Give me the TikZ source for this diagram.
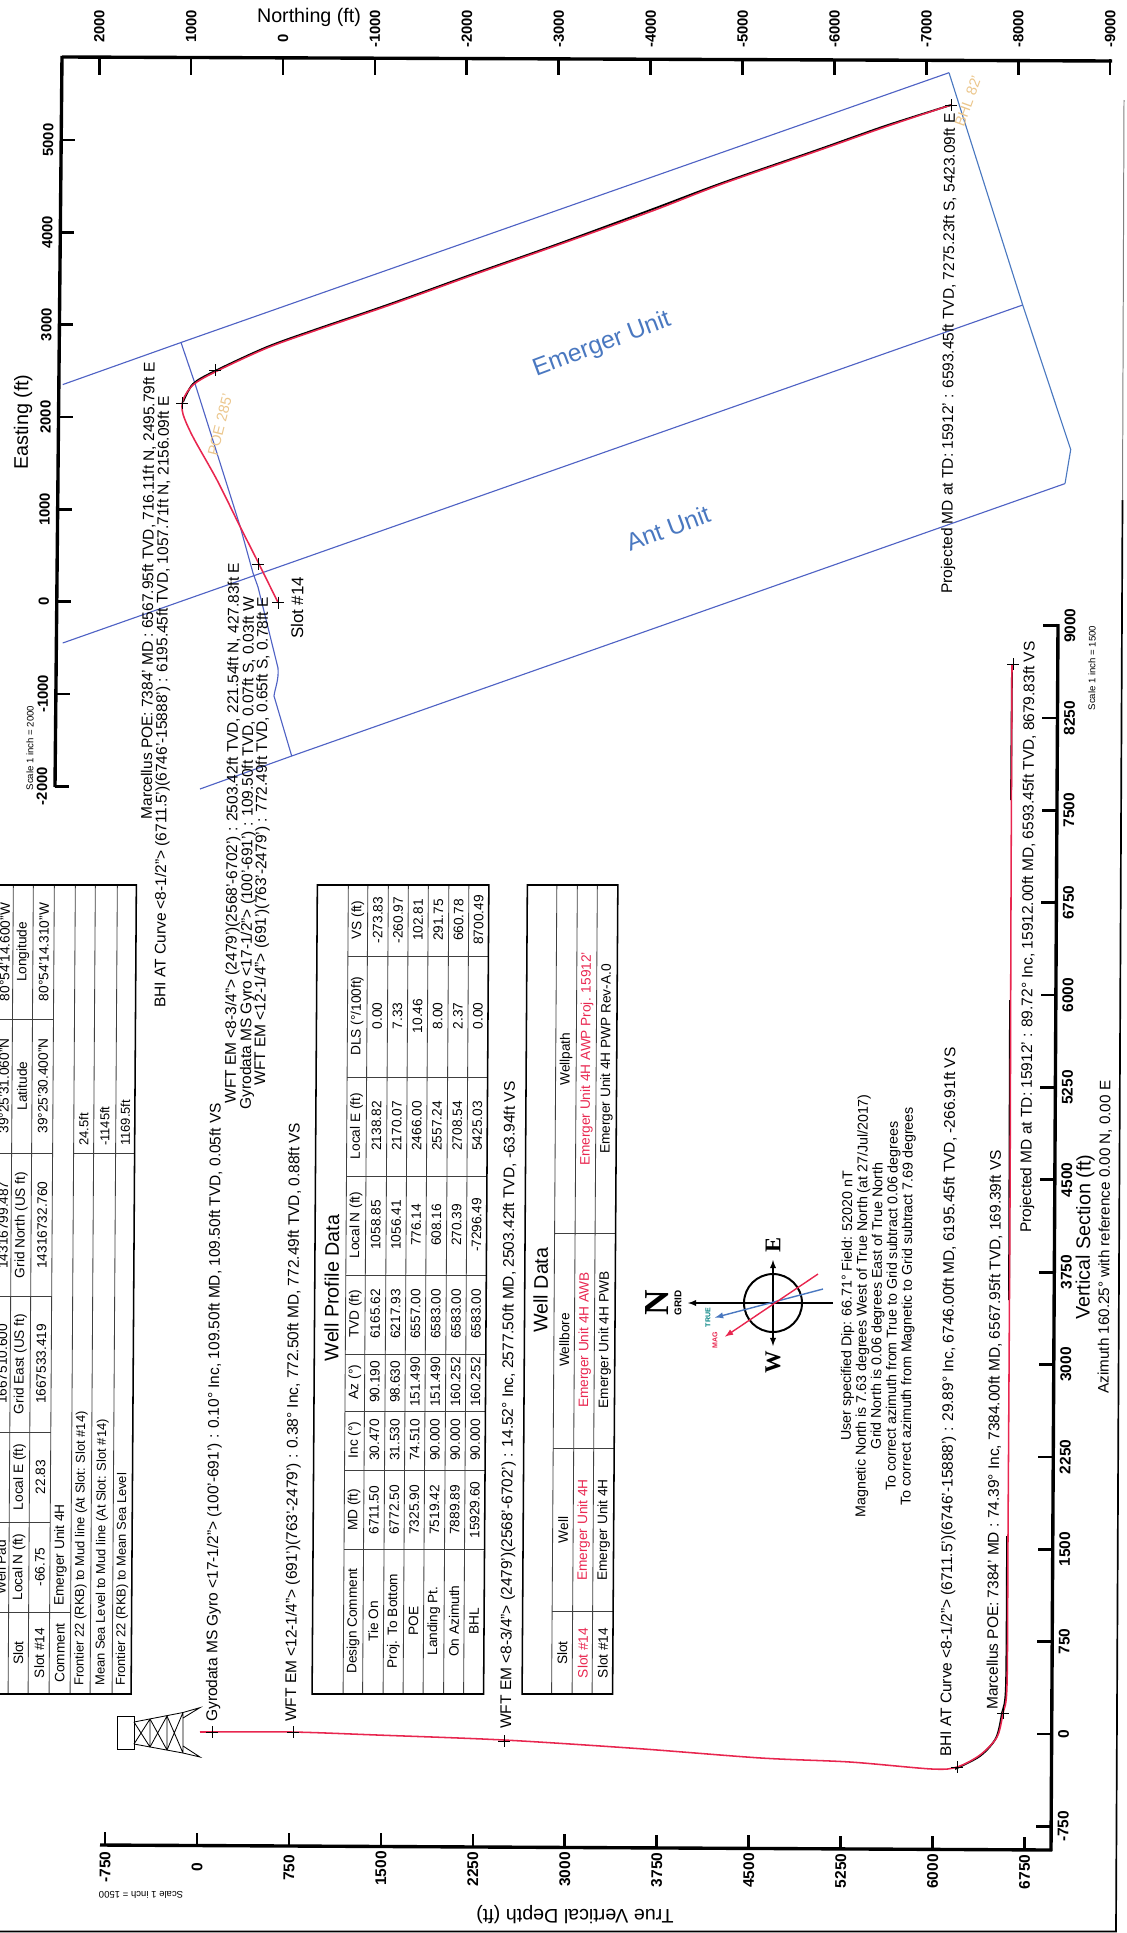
\documentclass[tikz,border=0pt]{standalone}
\usepackage{fontspec}
\setmainfont{Liberation Sans}
\newfontfamily\compassfont{Liberation Serif}
\definecolor{wellred}{HTML}{E8264F}
\definecolor{leaseblue}{HTML}{4F62C4}
\definecolor{unitblue}{HTML}{4A78C0}
\definecolor{limitgold}{HTML}{EBC68C}
\tikzset{
  axisline/.style={line width=2.4pt},
  tickline/.style={line width=1.9pt},
  thinline/.style={line width=0.6pt, black!75},
  boxline/.style={line width=1.1pt},
  leaseline/.style={line width=0.8pt, leaseblue},
  redpath/.style={line width=1.1pt, wellred},
  blackpath/.style={line width=1.3pt, black},
  marker/.style={line width=0.45pt, black},
  vtext/.style={rotate=89.65, inner sep=0pt, font=\fontsize{11}{12}\selectfont},
  celltext/.style={rotate=89.65, inner sep=0pt, font=\fontsize{9.7}{11}\selectfont},
  axislabel/.style={rotate=89.65, inner sep=0pt, font=\fontsize{10.5}{12}\selectfont\bfseries},
  bigtext/.style={inner sep=0pt, font=\fontsize{14}{16}\selectfont},
  scaletext/.style={inner sep=0pt, font=\fontsize{6.8}{8}\selectfont},
  unittext/.style={inner sep=0pt, text=unitblue, font=\fontsize{17.5}{19}\selectfont},
  limittext/.style={inner sep=0pt, text=limitgold, font=\fontsize{10.5}{12}\selectfont},
  compasstext/.style={rotate=89.65, inner sep=0pt, font=\compassfont\fontsize{16}{18}\selectfont\bfseries}
}
\begin{document}
\begin{tikzpicture}[x=0.025cm,y=-0.025cm]
  \useasboundingbox (0,0) rectangle (1126,1933);

  % edge of the scanned sheet
  \draw[line width=1.2pt] (0,1931.5) -- (1116,1931.5) -- (1122.5,500);
  \draw[line width=0.7pt, black!50] (1122.5,500) -- (1124,100);

  % plan view axes
  \draw[axisline] (62,57) -- (1112,61);
  \draw[axisline] (62,56) -- (55,787);
  \foreach \v in {2000,1000,0} {
    \pgfmathsetmacro{\tx}{283-\v*0.0919}
    \draw[tickline] (\tx,58) -- (\tx,75);
    \node[axislabel, anchor=west] (north\v) at (\tx,43) {\v};
  }
  \foreach \v in {1000,2000,...,9000} {
    \pgfmathsetmacro{\tx}{283+\v*0.0919}
    \draw[tickline] (\tx,59) -- (\tx,75);
    \node[axislabel, anchor=west] (south\v) at (\tx,43) {\llap{-}\v};
  }
  \foreach \v in {-2000,-1000,...,5000} {
    \pgfmathsetmacro{\ty}{601.6-\v*0.0923}
    \pgfmathsetmacro{\ax}{62-(\ty-57)*0.0096}
    \draw[tickline] (\ax,\ty) -- (\ax+14,\ty);
    \node[axislabel] (east\v) at (\ax-13,\ty) {\v};
  }
  \node[bigtext] (northtitle) at (309,17) {Northing (ft)};
  \node[bigtext, rotate=89.65] (easttitle) at (23,422) {Easting (ft)};
  \node[scaletext, rotate=89.65] (planscale) at (30,748) {Scale 1 inch = 2000};

  % lease lines
  \draw[leaseline] (62.7,384.6) -- (181,342.5) -- (949,72.7);
  \draw[leaseline] (62.7,643) -- (1022.7,305);
  \draw[leaseline] (200,789) -- (291.7,756) -- (1065,483.6);
  \draw[leaseline, unitblue] (949,72.7) -- (1022.7,305) -- (1070.7,449.6) -- (1065,483.6);
  \draw[leaseline] (181,342.5) -- (195,383.6) -- (240,526) -- (253,573) -- (258,587) -- (278,668)
    .. controls (279,680) and (275,688) .. (274,696) -- (291.7,756);
  \node[unittext, rotate=20.5] (emerger) at (602,345) {Emerger Unit};
  \node[unittext, rotate=20.5] (ant) at (668,528) {Ant Unit};
  \node[limittext, rotate=70] (bhllimit) at (968,101) {BHL 82'};
  \node[limittext, rotate=76] (poelimit) at (220,425) {POE 285'};

  % plan view well path
  \draw[blackpath] plot[smooth, tension=0.5] coordinates {(183,402) (193,384) (215,371) (267,347) (317,329) (390,304)
    (473,274) (558,244) (653,209) (722,183) (820,149) (885,126) (951,105)};
  \draw[redpath] plot[smooth, tension=0.5] coordinates {(278,602.5) (258,562) (240,526.4) (217,480) (193,437) (183,414) (183,400)
    (193,385) (215,372) (267,348) (317,330) (390,305) (473,275) (558,245) (653,210.7) (722,184) (820,150) (885,127) (951,105)};
  \foreach \mx/\my in {278/602.5,258/564,182/403,215/370,951/105} {
    \draw[marker] (\mx-6,\my) -- (\mx+6,\my) (\mx,\my-6) -- (\mx,\my+6);
  }

  % plan view notes
  \node[vtext, anchor=west, font=\fontsize{12}{13}\selectfont] (slotnote) at (297,639) {Slot \#14};
  \node[vtext, anchor=east] (planpoe) at (150,362) {Marcellus POE: 7384' MD : 6567.95ft TVD, 716.11ft N, 2495.79ft E};
  \node[vtext, anchor=east] (planbhi) at (165,396) {BHI AT Curve <8-1/2"> (6711.5')(6746'-15888') : 6195.45ft TVD, 1057.71ft N, 2156.09ft E};
  \node[vtext, anchor=east] (planwft) at (235,562.6) {WFT EM <8-3/4"> (2479')(2568'-6702') : 2503.42ft TVD, 221.54ft N, 427.83ft E};
  \node[vtext, anchor=east] (plangyro) at (250,597) {Gyrodata MS Gyro <17-1/2"> (100'-691') : 109.50ft TVD, 0.07ft S, 0.03ft W};
  \node[vtext, anchor=east] (planem) at (264,597) {WFT EM <12-1/4"> (691')(763'-2479') : 772.49ft TVD, 0.65ft S, 0.78ft E};
  \node[vtext, anchor=east] (planproj) at (951,113) {Projected MD at TD: 15912' : 6593.45ft TVD, 7275.23ft S, 5423.09ft E};

  % section axes
  \draw[axisline] (100,1845) -- (1052,1850);
  \draw[axisline] (1058,624) -- (1051,1851);
  \foreach \v in {-750,0,750,...,6750} {
    \pgfmathsetmacro{\tx}{197+\v*0.1226}
    \pgfmathsetmacro{\ay}{1845+(\tx-103)*0.0053}
    \draw[tickline] (\tx,\ay) -- (\tx,\ay-13);
    \node[axislabel, font=\fontsize{11}{12}\selectfont\bfseries] (depth\v) at (\tx,\ay+22) {\v};
  }
  \foreach \v in {-750,0,750,...,9000} {
    \pgfmathsetmacro{\ty}{1734-\v*0.12315}
    \pgfmathsetmacro{\ax}{1058-(\ty-625)*0.0057}
    \draw[tickline] (\ax,\ty) -- (\ax-15,\ty);
    \node[axislabel, font=\fontsize{11}{12}\selectfont\bfseries] (sect\v) at (\ax+12,\ty) {\v};
  }
  \node[bigtext, rotate=180] (depthtitle) at (575,1915) {True Vertical Depth (ft)};
  \node[bigtext, rotate=89.65] (secttitle) at (1085,1237) {Vertical Section (ft)};
  \node[vtext, font=\fontsize{10.8}{12}\selectfont] (azimuth) at (1105,1237) {Azimuth 160.25° with reference 0.00 N, 0.00 E};
  \node[scaletext, rotate=180] (depthscale) at (141,1895) {Scale 1 inch = 1500};
  \node[scaletext, rotate=89.65] (sectscale) at (1092,668) {Scale 1 inch = 1500};

  % section well path
  \draw[blackpath] plot[smooth, tension=0.5] coordinates {(955,1769) (980,1756) (996,1738) (1002,1713) (1006,1684) (1007,1536)};
  \draw[blackpath] (1009,1300) -- (1010,1000);
  \draw[blackpath] (1011,800) -- (1012,664);
  \draw[redpath] plot[smooth, tension=0.5] coordinates {(200,1732) (291.5,1732) (377,1735) (504,1740) (637,1748.5) (761,1758) (850,1762)
    (932,1769) (957,1767) (980,1755) (997,1737) (1003,1713) (1007,1684.6) (1008,1536) (1010,1200) (1011,900) (1012,664)};
  \foreach \mx/\my in {212/1732,293/1732,504/1741,957/1767,1003/1713,1013/664} {
    \draw[marker] (\mx-6,\my) -- (\mx+6,\my) (\mx,\my-6) -- (\mx,\my+6);
  }

  % section notes
  \node[vtext, anchor=west] (sectgyro) at (213,1722) {Gyrodata MS Gyro <17-1/2"> (100'-691') : 0.10° Inc, 109.50ft MD, 109.50ft TVD, 0.05ft VS};
  \node[vtext, anchor=west] (sectem) at (292,1722) {WFT EM <12-1/4"> (691')(763'-2479') : 0.38° Inc, 772.50ft MD, 772.49ft TVD, 0.88ft VS};
  \node[vtext, anchor=west] (sectwft) at (507,1729) {WFT EM <8-3/4"> (2479')(2568'-6702') : 14.52° Inc, 2577.50ft MD, 2503.42ft TVD, -63.94ft VS};
  \node[vtext, anchor=west] (sectbhi) at (947,1757) {BHI AT Curve <8-1/2"> (6711.5')(6746'-15888') : 29.89° Inc, 6746.00ft MD, 6195.45ft TVD, -266.91ft VS};
  \node[vtext, anchor=west] (sectpoe) at (993,1710) {Marcellus POE: 7384' MD : 74.39° Inc, 7384.00ft MD, 6567.95ft TVD, 169.39ft VS};
  \node[vtext, anchor=west] (sectproj) at (1027,1233) {Projected MD at TD: 15912' : 89.72° Inc, 15912.00ft MD, 6593.45ft TVD, 8679.83ft VS};
  \node[vtext, align=center, font=\fontsize{10.1}{10.7}\selectfont] (fieldnote) at (878,1306) {User specified Dip: 66.71°  Field: 52020 nT\\
    Magnetic North is 7.63 degrees West of True North (at 27/Jul/2017)\\
    Grid North is 0.06 degrees East of True North\\
    To correct azimuth from True to Grid subtract 0.06 degrees\\
    To correct azimuth from Magnetic to Grid subtract 7.69 degrees};

  % derrick
  \draw[line width=0.6pt] (117,1716) rectangle (134,1749);
  \draw[line width=0.6pt] (134,1722) -- (183,1712.5) -- (200,1707.6) -- (183,1718);
  \draw[line width=0.6pt] (134,1744) -- (183,1753) -- (200,1757) -- (183,1746);
  \foreach \ax/\ay/\az/\bx/\by/\bz in {134/1722/1744/150/1719/1747,150/1719/1747/167/1716/1750,167/1716/1750/183/1712.5/1753} {
    \draw[line width=0.6pt] (\ax,\ay) -- (\bx,\bz) (\ax,\az) -- (\bx,\by) (\bx,\by) -- (\bx,\bz);
  }

  % tables, the sheet leans a little
  \begin{scope}[shift={(9.1,0)}, xslant=0.0065]
    % location table
    \foreach \tx in {10,30,51,72,92,114} {
      \draw[thinline] (\tx,885) -- (\tx,1694);
    }
    \foreach \ty in {1612,1522,1432,1296,1153,1019} {
      \draw[thinline] (-5,\ty) -- (51,\ty);
    }
    \draw[thinline] (51,1612) -- (72,1612);
    \draw[thinline] (72,1153) -- (133,1153);
    \draw[boxline] (-5,885) -- (133,885) -- (133,1694) -- (-5,1694);
    \foreach \ty/\top/\mid/\bot/\nm in {1653/{}/Slot/Slot \#14/a,1567/Well Pad/Local N (ft)/-66.75/b,1477/{}/Local E (ft)/22.83/c,
      1364/1667510.600/Grid East (US ft)/1667533.419/d,1225/14316799.487/Grid North (US ft)/14316732.760/e,
      1086/39°25'31.060"N/Latitude/39°25'30.400"N/f,952/80°54'14.600"W/Longitude/80°54'14.310"W/g} {
      \node[celltext] (loc\nm0) at (2,\ty) {\top};
      \node[celltext] (loc\nm1) at (20,\ty) {\mid};
      \node[celltext] (loc\nm2) at (41,\ty) {\bot};
    }
    \node[celltext] (loccomment) at (61.5,1653) {Comment};
    \node[celltext, anchor=west] (locwell) at (61.5,1606) {Emerger Unit 4H};
    \foreach \tx/\txt/\val/\nm in {82/Frontier 22 (RKB) to Mud line (At Slot: Slot \#14)/24.5ft/a,103/Mean Sea Level to Mud line (At Slot: Slot \#14)/-1145ft/b,123.5/Frontier 22 (RKB) to Mean Sea Level/1169.5ft/c} {
      \node[celltext, anchor=west, font=\fontsize{9.2}{10}\selectfont] (rkb\nm) at (\tx,1686) {\txt};
      \node[celltext, anchor=west, font=\fontsize{9.2}{10}\selectfont] (rkbval\nm) at (\tx,1146) {\val};
    }

    % well profile table
    \foreach \tx in {345,364.5,385,405,425,445.5,465.5} {
      \draw[thinline] (\tx,885) -- (\tx,1694);
    }
    \foreach \ty in {956,1077,1176,1275,1354,1411,1470,1549} {
      \draw[thinline] (345,\ty) -- (485.5,\ty);
    }
    \draw[boxline] (314,885) rectangle (485.5,1694);
    \node[bigtext, rotate=89.65] (profiletitle) at (331,1288) {Well Profile Data};
    \foreach \tx/\ca/\cb/\cc/\cd/\ce/\cf/\cg/\ch/\ci [count=\r] in {
      354.7/Design Comment/MD (ft)/Inc (°)/Az (°)/TVD (ft)/Local N (ft)/Local E (ft)/{DLS (°/100ft)}/VS (ft),
      374.7/Tie On/6711.50/30.470/90.190/6165.62/1058.85/2138.82/0.00/-273.83,
      395/Proj. To Bottom/6772.50/31.530/98.630/6217.93/1056.41/2170.07/7.33/-260.97,
      415/POE/7325.90/74.510/151.490/6557.00/776.14/2466.00/10.46/102.81,
      435.2/Landing Pt./7519.42/90.000/151.490/6583.00/608.16/2557.24/8.00/291.75,
      455.5/On Azimuth/7889.89/90.000/160.252/6583.00/270.39/2708.54/2.37/660.78,
      475.5/BHL/15929.60/90.000/160.252/6583.00/-7296.49/5425.03/0.00/8700.49} {
      \node[celltext] (wp\r a) at (\tx,1621) {\ca};
      \node[celltext] (wp\r b) at (\tx,1510) {\cb};
      \node[celltext] (wp\r c) at (\tx,1440) {\cc};
      \node[celltext] (wp\r d) at (\tx,1382) {\cd};
      \node[celltext] (wp\r e) at (\tx,1314) {\ce};
      \node[celltext] (wp\r f) at (\tx,1225) {\cf};
      \node[celltext] (wp\r g) at (\tx,1126) {\cg};
      \node[celltext] (wp\r h) at (\tx,1016) {\ch};
      \node[celltext] (wp\r i) at (\tx,920) {\ci};
    }

    % well data table
    \foreach \tx in {553.5,574,594} {
      \draw[thinline] (\tx,885) -- (\tx,1694);
    }
    \foreach \ty in {1233,1448.5,1611} {
      \draw[thinline] (553.5,\ty) -- (614.5,\ty);
    }
    \draw[boxline] (524,885) rectangle (614.5,1694);
    \node[bigtext, rotate=89.65] (datatitle) at (540,1290) {Well Data};
    \foreach \tx/\ca/\cb/\cc/\cd/\col [count=\r] in {
      564/Slot/Well/Wellbore/Wellpath/black,
      584.5/Slot \#14/Emerger Unit 4H/Emerger Unit 4H AWB/Emerger Unit 4H AWP Proj. 15912'/wellred,
      604.5/Slot \#14/Emerger Unit 4H/Emerger Unit 4H PWB/Emerger Unit 4H PWP Rev-A.0/black} {
      \node[celltext, text=\col] (wd\r a) at (\tx,1653) {\ca};
      \node[celltext, text=\col] (wd\r b) at (\tx,1530) {\cb};
      \node[celltext, text=\col] (wd\r c) at (\tx,1340) {\cc};
      \node[celltext, text=\col] (wd\r d) at (\tx,1059) {\cd};
    }
  \end{scope}

  % compass
  \draw[line width=1.4pt] (773,1303) circle (29);
  \draw[line width=1pt, -latex] (833,1303) -- (688,1303);
  \draw[line width=1pt, latex-latex] (773,1260) -- (773,1346);
  \draw[line width=1pt, unitblue, -latex] (823,1289) -- (715,1317.5);
  \draw[line width=1pt, wellred, -latex] (818,1274) -- (725,1336.6);
  \node[compasstext, font=\compassfont\fontsize{25}{27}\selectfont\bfseries] (compassn) at (657,1303) {N};
  \node[axislabel, font=\fontsize{7}{8}\selectfont\bfseries] (compassgrid) at (678,1303) {GRID};
  \node[compasstext] (compasse) at (773,1245) {E};
  \node[compasstext] (compassw) at (773,1362) {W};
  \node[axislabel, font=\fontsize{5}{6}\selectfont\bfseries, text=teal] (compasstrue) at (708,1317.5) {TRUE};
  \node[axislabel, font=\fontsize{5}{6}\selectfont\bfseries, text=wellred] (compassmag) at (715,1340) {MAG};
\end{tikzpicture}
\end{document}
